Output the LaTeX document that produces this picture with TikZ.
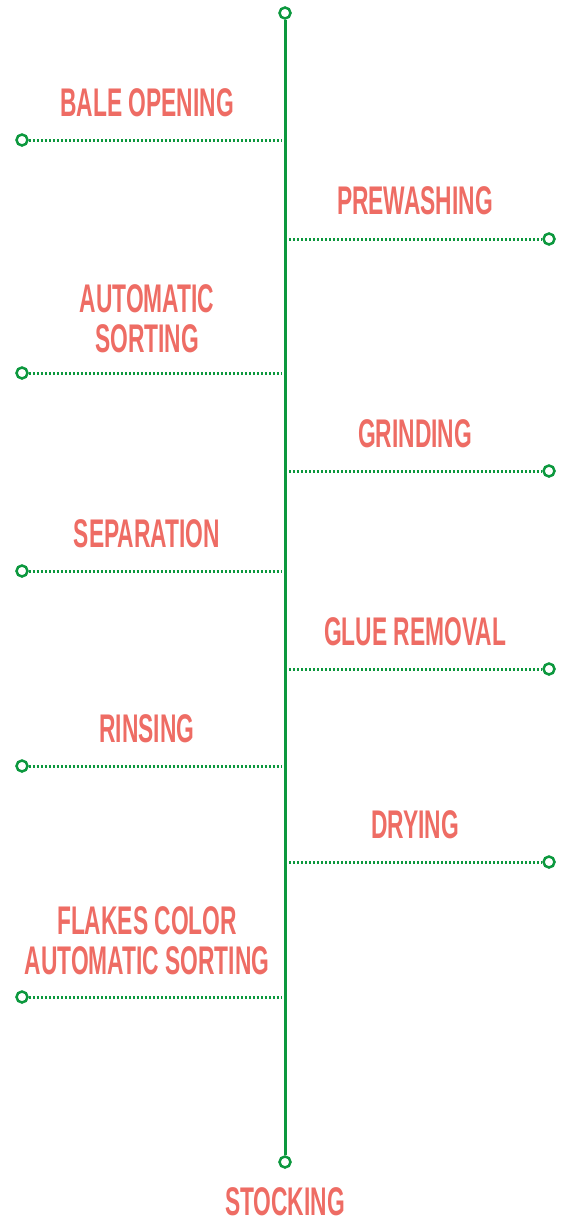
\documentclass[tikz,border=0pt]{standalone}
\usepackage{fontspec}
\setmainfont{Liberation Sans}[FakeStretch=0.57]
\usetikzlibrary{positioning}
\definecolor{stemgreen}{RGB}{12,152,62}
\definecolor{stagered}{RGB}{238,108,100}

\begin{document}
\begin{tikzpicture}[x=1pt,y=-1pt,
  endring/.style={circle,draw=stemgreen,line width=2.5pt,fill=white,minimum size=11pt,inner sep=0pt},
  stagelabel/.style={text=stagered,anchor=south,inner sep=0pt,align=center,
    font=\bfseries\fontsize{40}{40}\selectfont},
  branch/.style={stemgreen,line width=3pt,dash pattern=on 2.2pt off 1.8pt},
  stem/.style={stemgreen,line width=3pt}]
  \useasboundingbox (0,0) rectangle (565,1223);
  % main stem
  \node[endring] (top) at (285,13) {};
  \node[endring] (bottom) at (285,1162) {};
  \draw[stem] (top) -- (bottom);
  \node[stagelabel] (stocking) at (285,1216) {STOCKING};
  % left branches
  \node[endring] (ringbale) at (22,140) {};
  \coordinate (hubbale) at (281,140);
  \draw[branch] (ringbale) -- (hubbale);
  \node[stagelabel] (bale) at (147,117) {BALE OPENING};

  \node[endring] (ringsort) at (22,373) {};
  \coordinate (hubsort) at (281,373);
  \draw[branch] (ringsort) -- (hubsort);
  \node[stagelabel] (sort) at (147,353) {AUTOMATIC\\SORTING};

  \node[endring] (ringsep) at (22,571) {};
  \coordinate (hubsep) at (281,571);
  \draw[branch] (ringsep) -- (hubsep);
  \node[stagelabel] (sep) at (147,548) {SEPARATION};

  \node[endring] (ringrinse) at (22,766) {};
  \coordinate (hubrinse) at (281,766);
  \draw[branch] (ringrinse) -- (hubrinse);
  \node[stagelabel] (rinse) at (147,743) {RINSING};

  \node[endring] (ringflakes) at (22,997) {};
  \coordinate (hubflakes) at (281,997);
  \draw[branch] (ringflakes) -- (hubflakes);
  \node[stagelabel] (flakes) at (147,975) {FLAKES COLOR\\AUTOMATIC SORTING};
  % right branches
  \node[endring] (ringprewash) at (549,239) {};
  \coordinate (hubprewash) at (289,239);
  \draw[branch] (hubprewash) -- (ringprewash);
  \node[stagelabel] (prewash) at (415,215) {PREWASHING};

  \node[endring] (ringgrind) at (549,471) {};
  \coordinate (hubgrind) at (289,471);
  \draw[branch] (hubgrind) -- (ringgrind);
  \node[stagelabel] (grind) at (415,448) {GRINDING};

  \node[endring] (ringglue) at (549,669) {};
  \coordinate (hubglue) at (289,669);
  \draw[branch] (hubglue) -- (ringglue);
  \node[stagelabel] (glue) at (415,646) {GLUE REMOVAL};

  \node[endring] (ringdry) at (549,862) {};
  \coordinate (hubdry) at (289,862);
  \draw[branch] (hubdry) -- (ringdry);
  \node[stagelabel] (dry) at (415,839) {DRYING};
\end{tikzpicture}
\end{document}
